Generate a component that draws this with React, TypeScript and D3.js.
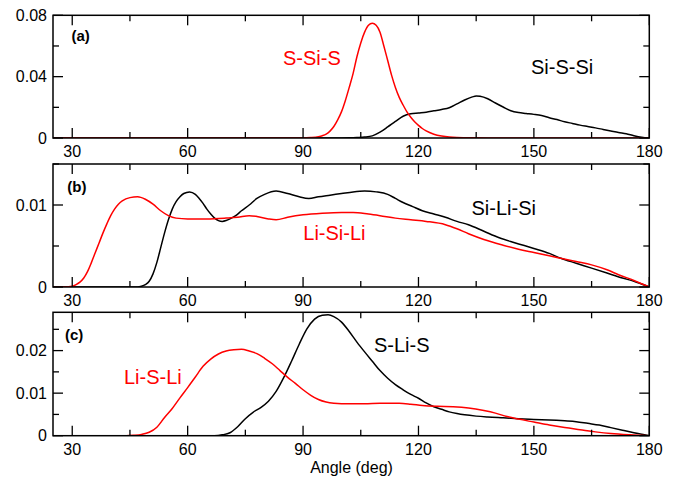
import React from "react";
import * as d3 from "d3";

// ---------- data ----------
// Panel (a)
const aRedAngles = [25, 90, 92, 94, 95, 96, 97, 98, 99, 100, 101, 102, 103, 104, 105, 106, 107, 108, 109, 110, 111, 112, 113, 114, 115, 116, 117, 118, 119, 120, 121, 122, 124, 126, 128, 130, 135, 140, 180];
const aRedValues = [0, 0, 0.0003, 0.0009, 0.0015, 0.0025, 0.0045, 0.0075, 0.0118, 0.0172, 0.0245, 0.033, 0.042, 0.053, 0.062, 0.069, 0.0735, 0.0748, 0.0735, 0.069, 0.06, 0.0505, 0.041, 0.033, 0.0265, 0.0215, 0.017, 0.0135, 0.0106, 0.0082, 0.0062, 0.0046, 0.0025, 0.0013, 0.0006, 0.0003, 0.0001, 0, 0];
const aBlackAngles = [25, 100, 102, 104, 106, 108, 110, 112, 114, 116, 118, 120, 122, 124, 126, 128, 130, 132, 134, 135, 136, 138, 140, 142, 144, 146, 148, 150, 152, 154, 156, 158, 160, 162, 164, 166, 168, 170, 172, 174, 176, 178, 180];
const aBlackValues = [0, 0, 0.0001, 0.0003, 0.0006, 0.0014, 0.0038, 0.0072, 0.0108, 0.0142, 0.0158, 0.0163, 0.0168, 0.0177, 0.0186, 0.0197, 0.0222, 0.0248, 0.0268, 0.0274, 0.0272, 0.0256, 0.0228, 0.0202, 0.0178, 0.0166, 0.016, 0.0154, 0.0146, 0.0132, 0.012, 0.0106, 0.0095, 0.0084, 0.0075, 0.0066, 0.0056, 0.0046, 0.0036, 0.0028, 0.0015, 0.0005, 0];

// Panel (b)
const bRedAngles = [25, 28, 30, 31, 32, 33, 34, 35, 36, 37, 38, 39, 40, 41, 42, 43, 45, 47, 49, 51, 53, 55, 57, 60, 65, 70, 73, 76, 78, 81, 83, 86, 90, 95, 100, 103, 107, 110, 114, 118, 122, 127, 130, 133, 137, 142, 146, 150, 154, 157, 161, 165, 169, 172, 176, 180];
const bRedValues = [0, 0, 0.0001, 0.0003, 0.0006, 0.0011, 0.0019, 0.003, 0.0042, 0.0054, 0.0066, 0.0077, 0.0087, 0.0095, 0.0101, 0.0105, 0.0109, 0.011, 0.0107, 0.0101, 0.0093, 0.0087, 0.0084, 0.0083, 0.0083, 0.0084, 0.0085, 0.0087, 0.0086, 0.0083, 0.0082, 0.0085, 0.0088, 0.009, 0.0091, 0.0091, 0.0089, 0.0087, 0.0084, 0.0082, 0.008, 0.0076, 0.0071, 0.0065, 0.0058, 0.0051, 0.0046, 0.0042, 0.0038, 0.0035, 0.0031, 0.0027, 0.0021, 0.0015, 0.0008, 0];
const bBlackAngles = [25, 47, 48, 49, 50, 51, 52, 53, 54, 55, 56, 57, 58, 59, 60.5, 62, 63, 64, 65, 66, 67, 68, 69, 70, 71, 72.5, 74, 76, 78, 80, 83, 86, 89, 91.5, 94, 97, 100, 103, 106, 109, 112, 114, 116, 118.5, 121, 124, 127, 130, 133, 137, 141, 145, 150, 154, 157, 161, 165, 169, 173, 176, 180];
const bBlackValues = [0, 0, 0.0001, 0.0003, 0.0007, 0.0016, 0.003, 0.0048, 0.0066, 0.0082, 0.0095, 0.0104, 0.011, 0.0114, 0.0116, 0.0113, 0.0108, 0.0102, 0.0095, 0.0089, 0.0084, 0.0081, 0.008, 0.0081, 0.0083, 0.0087, 0.0093, 0.01, 0.0108, 0.0113, 0.0117, 0.0114, 0.011, 0.0108, 0.011, 0.0112, 0.0114, 0.0116, 0.0117, 0.0116, 0.0113, 0.0108, 0.0103, 0.0098, 0.0093, 0.0089, 0.0085, 0.008, 0.0076, 0.0068, 0.006, 0.0054, 0.0047, 0.0041, 0.0035, 0.0029, 0.0023, 0.0017, 0.0011, 0.0007, 0];

// Panel (c)
const cRedAngles = [25, 44, 46, 48, 50, 52, 54, 56, 58, 60, 62, 64, 66, 68, 70, 72, 74, 76, 78, 80, 82, 84, 86, 88, 90, 92, 94, 96, 98, 100, 106, 110, 115, 118, 121, 125, 129, 133, 137, 140, 143, 146, 150, 154, 158, 162, 166, 170, 175, 180];
const cRedValues = [0, 0, 0.0001, 0.0003, 0.0008, 0.002, 0.0043, 0.0064, 0.0089, 0.0113, 0.0138, 0.0163, 0.018, 0.0192, 0.0199, 0.0202, 0.0203, 0.0199, 0.0193, 0.0182, 0.0169, 0.0153, 0.0137, 0.0123, 0.0108, 0.0095, 0.0085, 0.0079, 0.0076, 0.0075, 0.0075, 0.0076, 0.0076, 0.0074, 0.0071, 0.0069, 0.0068, 0.0065, 0.0059, 0.0053, 0.0045, 0.0039, 0.0032, 0.0025, 0.0019, 0.0014, 0.0009, 0.0005, 0.0002, 0];
const cBlackAngles = [25, 67, 69, 71, 73, 75, 77, 79, 81, 83, 85, 87, 89, 91, 93, 95, 96.5, 98, 100, 102, 104, 106, 108, 110, 112, 114, 116, 118, 120, 122, 124, 126, 128, 130, 132, 135, 138, 142, 146, 150, 154, 158, 161, 164, 167, 170, 173, 176, 180];
const cBlackValues = [0, 0, 0.0002, 0.0007, 0.0021, 0.004, 0.0055, 0.0066, 0.0081, 0.0104, 0.0137, 0.0175, 0.0215, 0.0251, 0.0274, 0.0283, 0.0284, 0.028, 0.0267, 0.0245, 0.022, 0.0197, 0.0175, 0.0153, 0.0135, 0.012, 0.0108, 0.0097, 0.0088, 0.0077, 0.0068, 0.0062, 0.0056, 0.0052, 0.0049, 0.0046, 0.0044, 0.0042, 0.004, 0.0038, 0.0037, 0.0035, 0.0033, 0.0029, 0.0025, 0.0019, 0.0013, 0.0007, 0];

const xMajorTicks = [30, 60, 90, 120, 150, 180];
const xMinorTicks = [45, 75, 105, 135, 165];

const aYMajor = [0, 0.04, 0.08];
const aYMinor = [0.02, 0.06];
const bYMajor = [0, 0.01];
const bYMinor = [0.005, 0.015];
const cYMajor = [0, 0.01, 0.02];
const cYMinor = [0.005, 0.015, 0.025];

const xLabel = "Angle (deg)";

// ---------- layout ----------
const W = 679;
const H = 481;
const LEFT = 53;
const RIGHT = 649.3;
const FONT = "'Liberation Sans', Arial, Helvetica, sans-serif";
const RED = "#ff0000";

type Series = { angles: number[]; values: number[]; color: string };
type Label = { text: string; x: number; y: number; color: string };

type PanelSpec = {
  top: number;
  height: number;
  yMax: number;
  yMajor: number[];
  yMinor: number[];
  yFmt: (v: number) => string;
  tag: string;
  tagX: number;
  tagY: number;
  series: Series[];
  labels: Label[];
};

const fmt = (v: number) => (v === 0 ? "0" : String(+v.toFixed(3)));

const panels: PanelSpec[] = [
  {
    top: 15.3, height: 122.7, yMax: 0.08, yMajor: aYMajor, yMinor: aYMinor, yFmt: (v) => (v === 0 ? "0" : v.toFixed(2)),
    tag: "(a)", tagX: 71.5, tagY: 41,
    series: [
      { angles: aBlackAngles, values: aBlackValues, color: "#000" },
      { angles: aRedAngles, values: aRedValues, color: RED },
    ],
    labels: [
      { text: "S-Si-S", x: 283, y: 64.5, color: RED },
      { text: "Si-S-Si", x: 531, y: 73.5, color: "#000" },
    ],
  },
  {
    top: 164, height: 123, yMax: 0.015, yMajor: bYMajor, yMinor: bYMinor, yFmt: fmt,
    tag: "(b)", tagX: 67.3, tagY: 192,
    series: [
      { angles: bBlackAngles, values: bBlackValues, color: "#000" },
      { angles: bRedAngles, values: bRedValues, color: RED },
    ],
    labels: [
      { text: "Si-Li-Si", x: 471.5, y: 215, color: "#000" },
      { text: "Li-Si-Li", x: 303.3, y: 240.3, color: RED },
    ],
  },
  {
    top: 312.3, height: 123.4, yMax: 0.029, yMajor: cYMajor, yMinor: cYMinor, yFmt: fmt,
    tag: "(c)", tagX: 65, tagY: 340,
    series: [
      { angles: cBlackAngles, values: cBlackValues, color: "#000" },
      { angles: cRedAngles, values: cRedValues, color: RED },
    ],
    labels: [
      { text: "S-Li-S", x: 374, y: 351.7, color: "#000" },
      { text: "Li-S-Li", x: 124, y: 384, color: RED },
    ],
  },
];

const MAJOR = 10;
const MINOR = 6;

function Panel({ p }: { p: PanelSpec }) {
  const x = d3.scaleLinear().domain([25, 180]).range([LEFT, RIGHT]);
  const y = d3.scaleLinear().domain([0, p.yMax]).range([p.top + p.height, p.top]);
  const bottom = p.top + p.height;
  const clipId = "clip-" + p.tag.replace(/[()]/g, "");

  const tickLines: JSX.Element[] = [];
  const addX = (t: number, len: number, k: string) => {
    const px = x(t);
    tickLines.push(<line key={"xb" + k} x1={px} x2={px} y1={bottom} y2={bottom - len} />);
    tickLines.push(<line key={"xt" + k} x1={px} x2={px} y1={p.top} y2={p.top + len} />);
  };
  const addY = (v: number, len: number, k: string) => {
    const py = y(v);
    tickLines.push(<line key={"yl" + k} x1={LEFT} x2={LEFT + len} y1={py} y2={py} />);
    tickLines.push(<line key={"yr" + k} x1={RIGHT} x2={RIGHT - len} y1={py} y2={py} />);
  };
  xMajorTicks.forEach((t) => addX(t, MAJOR, "M" + t));
  xMinorTicks.forEach((t) => addX(t, MINOR, "m" + t));
  p.yMajor.forEach((v) => addY(v, MAJOR, "M" + v));
  p.yMinor.forEach((v) => addY(v, MINOR, "m" + v));

  const line = d3
    .line<[number, number]>()
    .x((d) => x(d[0]))
    .y((d) => y(d[1]))
    .curve(d3.curveMonotoneX);

  return (
    <g>
      <defs>
        <clipPath id={clipId}>
          <rect x={LEFT} y={p.top} width={RIGHT - LEFT} height={p.height} />
        </clipPath>
      </defs>
      <g clipPath={`url(#${clipId})`}>
        {p.series.map((s, i) => (
          <path
            key={i}
            d={line(s.angles.map((a, j) => [a, s.values[j]] as [number, number])) || ""}
            fill="none"
            stroke={s.color}
            strokeWidth={1.5}
            strokeLinejoin="round"
          />
        ))}
      </g>
      <g stroke="#000" strokeWidth={1.3}>{tickLines}</g>
      <rect x={LEFT} y={p.top} width={RIGHT - LEFT} height={p.height} fill="none" stroke="#000" strokeWidth={1.5} />
      {xMajorTicks.map((t) => (
        <text key={"xl" + t} x={x(t)} y={bottom + 19} textAnchor="middle" fontSize={16} fontFamily={FONT} fill="#000">
          {t}
        </text>
      ))}
      {p.yMajor.map((v) => (
        <text key={"yl" + v} x={LEFT - 6} y={y(v)} dy="0.36em" textAnchor="end" fontSize={16} fontFamily={FONT} fill="#000">
          {p.yFmt(v)}
        </text>
      ))}
      <text x={p.tagX} y={p.tagY} fontSize={15} fontWeight="bold" fontFamily={FONT} fill="#000">
        {p.tag}
      </text>
      {p.labels.map((l) => (
        <text key={l.text} x={l.x} y={l.y} fontSize={20} fontFamily={FONT} fill={l.color}>
          {l.text}
        </text>
      ))}
    </g>
  );
}

export default function App() {
  return (
    <svg
      width={W}
      height={H}
      viewBox={`0 0 ${W} ${H}`}
      style={{ position: "absolute", left: 0, top: 0, background: "#fff" }}
    >
      <rect x={0} y={0} width={W} height={H} fill="#fff" />
      {panels.map((p) => (
        <Panel key={p.tag} p={p} />
      ))}
      <text x={351.5} y={472.5} textAnchor="middle" fontSize={16} fontFamily={FONT} fill="#000">
        {xLabel}
      </text>
    </svg>
  );
}
